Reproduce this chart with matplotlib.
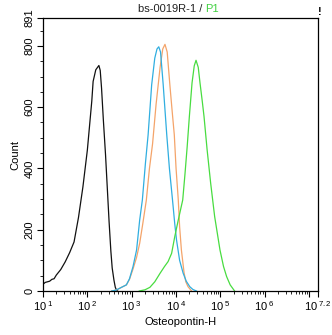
import numpy as np
import matplotlib
matplotlib.use("Agg")
import matplotlib.pyplot as plt
from matplotlib.ticker import FixedLocator, NullFormatter

plt.rcParams['font.family'] = ['Liberation Sans', 'DejaVu Sans']
plt.rcParams['mathtext.fontset'] = 'custom'
plt.rcParams['mathtext.rm'] = 'Liberation Sans'
plt.rcParams['mathtext.it'] = 'Liberation Sans'

# Histogram traces: log10(Osteopontin-H) and event counts
black_log = [1.00, 1.05, 1.10, 1.15, 1.20, 1.25, 1.30, 1.40, 1.50, 1.60, 1.70, 1.80,
             1.90, 1.95, 2.00, 2.05, 2.10, 2.13, 2.19, 2.23, 2.26, 2.29, 2.32, 2.36,
             2.41, 2.45, 2.49, 2.53, 2.56, 2.60, 2.63, 2.66, 2.68]
black_cnt = [22, 28, 30, 32, 38, 40, 52, 70, 95, 125, 160, 240,
             340, 400, 460, 540, 620, 684, 722, 730, 736, 720, 662, 560,
             444, 335, 226, 130, 75, 35, 12, 2, 0]

blue_log = [2.55, 2.65, 2.77, 2.88, 2.95, 3.03, 3.11, 3.18, 3.24, 3.31, 3.37, 3.45,
            3.52, 3.57, 3.61, 3.65, 3.71, 3.79, 3.85, 3.92, 3.97, 4.01, 4.08, 4.16,
            4.23, 4.31, 4.38, 4.46]
blue_cnt = [0, 3, 12, 20, 40, 80, 134, 232, 297, 418, 510, 673,
            760, 790, 797, 780, 673, 510, 400, 297, 220, 167, 100, 58,
            32, 14, 5, 0]

orange_log = [2.55, 2.65, 2.77, 2.88, 2.95, 3.03, 3.11, 3.18, 3.25, 3.33, 3.40, 3.47,
              3.55, 3.64, 3.70, 3.75, 3.80, 3.86, 3.91, 3.96, 4.00, 4.05, 4.08, 4.12,
              4.18, 4.22, 4.27, 4.35]
orange_cnt = [0, 3, 12, 20, 38, 72, 110, 156, 220, 297, 400, 480,
              610, 730, 790, 805, 780, 673, 590, 510, 400, 297, 210, 134,
              60, 30, 14, 0]

green_log = [3.17, 3.30, 3.41, 3.52, 3.64, 3.74, 3.82, 3.90, 3.97, 4.05, 4.15, 4.20,
             4.25, 4.30, 4.36, 4.41, 4.45, 4.50, 4.54, 4.59, 4.63, 4.70, 4.78, 4.87,
             4.99, 5.07, 5.14, 5.22, 5.32]
green_cnt = [0, 4, 12, 30, 58, 80, 96, 123, 177, 232, 297, 380,
             470, 570, 679, 735, 753, 730, 679, 620, 570, 461, 352, 243,
             134, 80, 47, 20, 0]

x_major = [1, 2, 3, 4, 5, 6, 7, 7.2]
x_major_labels = ['$10^{\\ 1}$', '$10^{\\ 2}$', '$10^{\\ 3}$', '$10^{\\ 4}$', '$10^{\\ 5}$',
                  '$10^{\\ 6}$', '', '$10^{\\ 7.2}$']
y_major = [0, 200, 400, 600, 800, 891]

fig = plt.figure(figsize=(3.32, 3.35), dpi=100)
ax = fig.add_axes([43 / 332, 1 - 291 / 335, 275 / 332, 273 / 335])

traces = [
    (black_log, black_cnt, '#111111'),
    (orange_log, orange_cnt, '#f4a46a'),
    (blue_log, blue_cnt, '#30aee0'),
    (green_log, green_cnt, '#48dc40'),
]
for lg, cnt, col in traces:
    ax.plot(10 ** np.asarray(lg), cnt, color=col, lw=0.9)

ax.set_xscale('log')
ax.set_xlim(10, 10 ** 7.2)
ax.set_ylim(0, 891)

ax.xaxis.set_major_locator(FixedLocator([10 ** v for v in x_major]))
ax.set_xticklabels(x_major_labels)
minor = [m * 10 ** d for d in range(1, 7) for m in range(2, 10)]
ax.xaxis.set_minor_locator(FixedLocator(minor))
ax.xaxis.set_minor_formatter(NullFormatter())

ax.set_yticks(y_major)
ax.set_yticklabels([str(v) for v in y_major], rotation=90, va='center')
ax.yaxis.set_minor_locator(FixedLocator(list(range(50, 891, 50))))

ax.tick_params(axis='both', which='major', direction='out', length=4, width=0.8,
               labelsize=8, pad=2)
ax.tick_params(axis='both', which='minor', direction='out', length=2, width=0.6)
for s in ax.spines.values():
    s.set_linewidth(0.9)

ax.set_xlabel('Osteopontin-H', fontsize=8, labelpad=3)
ax.set_ylabel('Count', fontsize=8, labelpad=3)

# Title with the gate name in green
fig.text(205 / 332, 1 - 9 / 335, 'bs-0019R-1 / ', fontsize=8, ha='right', va='center',
         color='#222222')
fig.text(205 / 332, 1 - 9 / 335, 'P1', fontsize=8, ha='left', va='center', color='#40d040')
fig.text(320 / 332, 1 - 12 / 335, '!', fontsize=8, fontweight='bold', ha='center',
         va='center', color='black')

fig.savefig('out.png', dpi=100)
